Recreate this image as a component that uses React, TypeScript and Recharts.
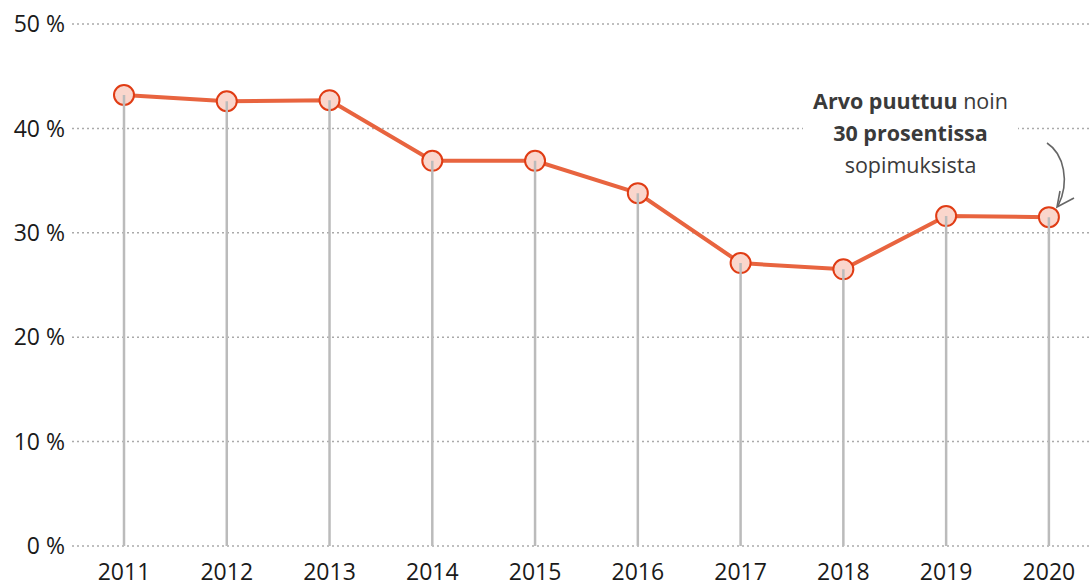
import { LineChart, Line, XAxis, YAxis, CartesianGrid, ErrorBar } from 'recharts'

const years = [2011, 2012, 2013, 2014, 2015, 2016, 2017, 2018, 2019, 2020]
const shares = [43.2, 42.6, 42.7, 36.9, 36.9, 33.8, 27.1, 26.5, 31.6, 31.5]
const yTicks = [0, 10, 20, 30, 40, 50]

const data = years.map((year, i) => ({ year, share: shares[i], stem: [shares[i], 0] }))

const font = '"Open Sans", "DejaVu Sans", sans-serif'

export default function App(){
  return (
    <div style={{ position:'absolute', left:0, top:0, width:1090, height:587, fontFamily:font, background:'#fff' }}>
      <LineChart width={1090} height={587} data={data} margin={{ left:0, right:0, top:24, bottom:0 }}>
        <CartesianGrid vertical={false} stroke="#aaa" strokeWidth={1.5} strokeDasharray="2 3" />
        <XAxis dataKey="year" type="number" domain={[2010.494, 2020.4]} ticks={years} axisLine={false} tickLine={false}
          tickSize={0} tickMargin={18} height={41} interval={0}
          tick={{ fill:'#1a1a1a', fontSize:23, fontFamily:font }} />
        <YAxis domain={[0, 50]} ticks={yTicks} width={72} axisLine={false} tickLine={false} tickSize={0} tickMargin={7}
          tickFormatter={(v)=> v + ' %'} tick={{ fill:'#1a1a1a', fontSize:23, fontFamily:font }} />
        <Line dataKey="share" stroke="#e8643f" strokeWidth={4} isAnimationActive={false}
          dot={{ r:10, fill:'#fad6cc', stroke:'#e03c14', strokeWidth:2 }} activeDot={false} />
        <Line dataKey="share" stroke="none" dot={false} activeDot={false} isAnimationActive={false} zIndex={1500}>
          <ErrorBar dataKey="stem" direction="y" width={0} stroke="#bbb" strokeWidth={2.5} zIndex={1500} />
        </Line>
      </LineChart>
      <div style={{ position:'absolute', left:803, top:85, width:215, textAlign:'center', background:'#fff',
        fontSize:21.5, lineHeight:'32px', color:'#3a3a3a' }}>
        <b>Arvo puuttuu</b> noin<br /><b>30 prosentissa</b><br />sopimuksista
      </div>
      <svg style={{ position:'absolute', left:0, top:0 }} width={1090} height={587}>
        <path d="M1047 143 C1064 154, 1070 182, 1058 206" fill="none" stroke="#666" strokeWidth={1.6} />
        <path d="M1074 198 L1057 207 L1060 191" fill="none" stroke="#666" strokeWidth={1.6} />
      </svg>
    </div>
  )
}
